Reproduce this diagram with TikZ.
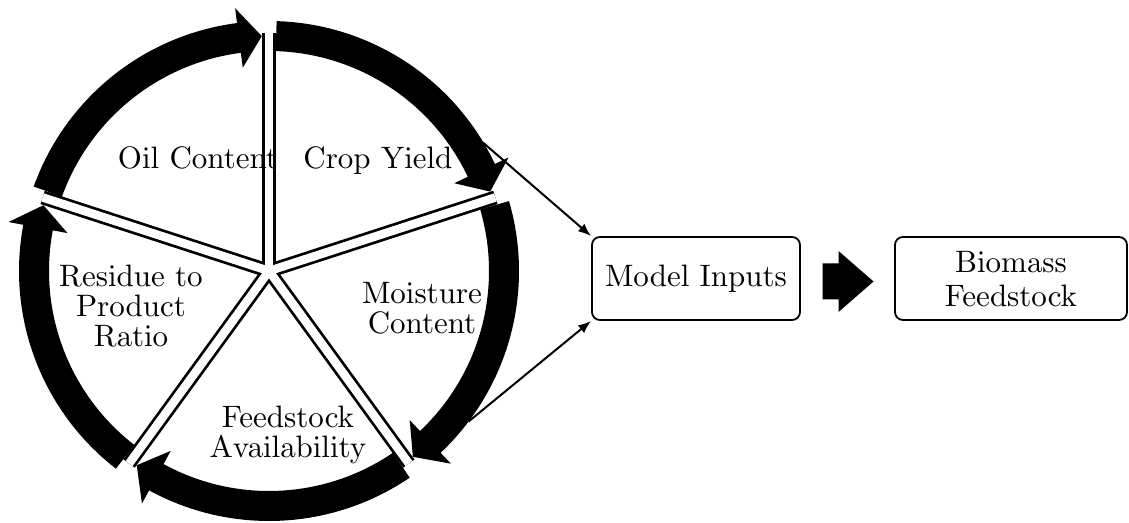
\documentclass[tikz,border=0pt]{standalone}
\usetikzlibrary{arrows.meta,calc}
% 10pt-design Computer Modern, enlarged
\font\wheelfont=cmr10 at 31pt
\begin{document}
\begin{tikzpicture}[x=1pt,y=1pt,
  lbl/.style={font=\fontsize{31}{30}\selectfont\wheelfont, align=center, anchor=base, inner sep=0pt},
  box/.style={draw, line width=1.8pt, rounded corners=8pt, minimum height=83pt,
    inner sep=0pt, font=\fontsize{31}{34}\selectfont\wheelfont, align=center},
  feed/.style={line width=2pt, -{Latex[length=13pt,width=10pt]}},
  divider/.style={line width=14pt},
  dividercore/.style={white, line width=8.5pt},
]
\useasboundingbox (0,0) rectangle (1129,522);

% the wheel of five factors
\coordinate (C) at (269,251);
\begin{scope}[shift={(C)}]
  % double-line spokes between the sectors
  \foreach \p in {90,18,-54,-126,162} \draw[divider] (0,0) -- (\p:238);
  \foreach \p in {90,18,-54,-126,162} \draw[dividercore] (0,0) -- (\p:238);
  % thick clockwise arrows around the rim
  \foreach \p in {90,18,-54,-126,162} {
    \pgfmathsetmacro\a{\p-1.75}
    \pgfmathsetmacro\t{\p-72+1.75}
    \pgfmathsetmacro\b{\t+5.6}
    \fill (\a:250) arc[start angle=\a, end angle=\b, radius=250]
      -- (\b:265) -- (\t:235) -- (\b:205) -- (\b:220)
      arc[start angle=\b, end angle=\a, radius=220] -- cycle;
  }
  \coordinate (u) at (31:249.5);
  \coordinate (l) at (-37:250);
\end{scope}

% sector labels (anchored at the baseline of the last line)
\node[lbl] (oil)   at (198,353) {Oil Content};
\node[lbl] (crop)  at (378,353) {Crop Yield};
\node[lbl] (moist) at (422,188) {Moisture\\Content};
\node[lbl] (avail) at (288,65)  {Feedstock\\Availability};
\node[lbl] (ratio) at (131,175) {Residue to\\Product\\Ratio};

% boxes
\node[box, minimum width=208pt] (mi) at (696,243.5) {Model Inputs};
\node[box, minimum width=232pt] (bf) at (1011,243.5) {Biomass\\Feedstock};

% connectors
\draw[feed] (u) -- (mi.north west);
\draw[feed] (l) -- (mi.south west);

% block arrow between the boxes
\coordinate (ba) at ($(mi.east)!0.5!(bf.west)+(0,-3)$);
\fill ($(ba)+(-25,18)$) -- ($(ba)+(-9,18)$) -- ($(ba)+(-9,30.5)$) -- ($(ba)+(26,0)$)
  -- ($(ba)+(-9,-30.5)$) -- ($(ba)+(-9,-18)$) -- ($(ba)+(-25,-18)$) -- cycle;
\end{tikzpicture}
\end{document}
